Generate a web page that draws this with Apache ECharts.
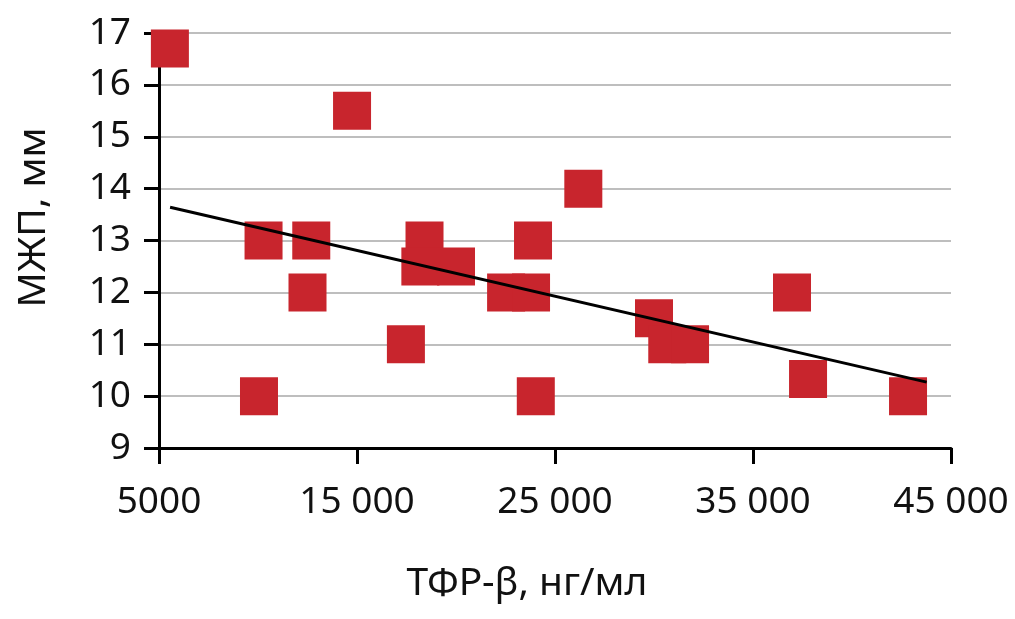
<!DOCTYPE html>
<html>
<head>
<meta charset="utf-8">
<script src="https://cdn.jsdelivr.net/npm/echarts@6/dist/echarts.min.js"></script>
<style>
html,body{margin:0;padding:0;background:#fff;}
#chart{width:1015px;height:619px;}
</style>
</head>
<body>
<div id="chart"></div>
<script>
// TGF-beta (ng/ml) values
var xValues = [5550, 14750, 10280, 12690, 12500, 10050, 17470, 18410, 18200, 20000, 22530, 23790, 23890, 24030, 26430, 30000, 30670, 31820, 36970, 37780, 42830];
// IVS thickness (mm)
var yValues = [16.7, 15.5, 13.0, 13.0, 12.0, 10.0, 11.0, 13.0, 12.5, 12.5, 12.0, 12.0, 13.0, 10.0, 14.0, 11.5, 11.0, 11.0, 12.0, 10.33, 10.0];
// trend line endpoints
var trendX = [5560, 43770];
var trendY = [13.64, 10.27];
var xTicks = [5000, 15000, 25000, 35000, 45000];
var yTicks = [9, 10, 11, 12, 13, 14, 15, 16, 17];

var points = xValues.map(function (x, i) { return [x, yValues[i]]; });
var trend = trendX.map(function (x, i) { return [x, trendY[i]]; });

var FONT = 'Noto Sans';
var chart = echarts.init(document.getElementById('chart'), null, {renderer: 'canvas'});
chart.setOption({
  animation: false,
  backgroundColor: '#ffffff',
  grid: {left: 159, right: 64, top: 33, bottom: 171, containLabel: false},
  xAxis: {
    type: 'value',
    min: xTicks[0], max: xTicks[xTicks.length - 1], interval: xTicks[1] - xTicks[0],
    name: 'ТФР-β, нг/мл',
    nameLocation: 'middle',
    nameGap: 116,
    nameTextStyle: {fontFamily: FONT, fontSize: 39, color: '#111', padding: [0, 56, 0, 0]},
    axisLine: {show: true, onZero: false, lineStyle: {color: '#000', width: 3}},
    axisTick: {show: true, length: 16, lineStyle: {color: '#000', width: 3}},
    axisLabel: {
      margin: 36, fontFamily: FONT, fontSize: 37, color: '#111',
      formatter: function (v) { return v < 10000 ? String(v) : String(v).replace(/(\d)(?=(\d{3})+$)/g, '$1 '); }
    },
    splitLine: {show: false}
  },
  yAxis: {
    type: 'value',
    min: yTicks[0], max: yTicks[yTicks.length - 1], interval: 1,
    name: 'МЖП, мм',
    nameLocation: 'middle',
    nameGap: 106,
    nameRotate: 90,
    nameTextStyle: {fontFamily: FONT, fontSize: 39, color: '#111', padding: [0, 0, 0, 46]},
    axisLine: {show: true, lineStyle: {color: '#000', width: 3}},
    axisTick: {show: true, length: 15, lineStyle: {color: '#000', width: 3}},
    axisLabel: {margin: 28, fontFamily: FONT, fontSize: 37, color: '#111'},
    splitLine: {show: true, lineStyle: {color: '#a8a8a8', width: 1.5}}
  },
  series: [
    {
      type: 'scatter',
      data: points,
      symbol: 'rect',
      symbolSize: 38,
      itemStyle: {color: '#c8252d', opacity: 1},
      clip: false,
      z: 2
    },
    {
      type: 'line',
      data: trend,
      showSymbol: false,
      symbol: 'none',
      lineStyle: {color: '#000', width: 3},
      z: 3
    }
  ]
});
</script>
</body>
</html>
